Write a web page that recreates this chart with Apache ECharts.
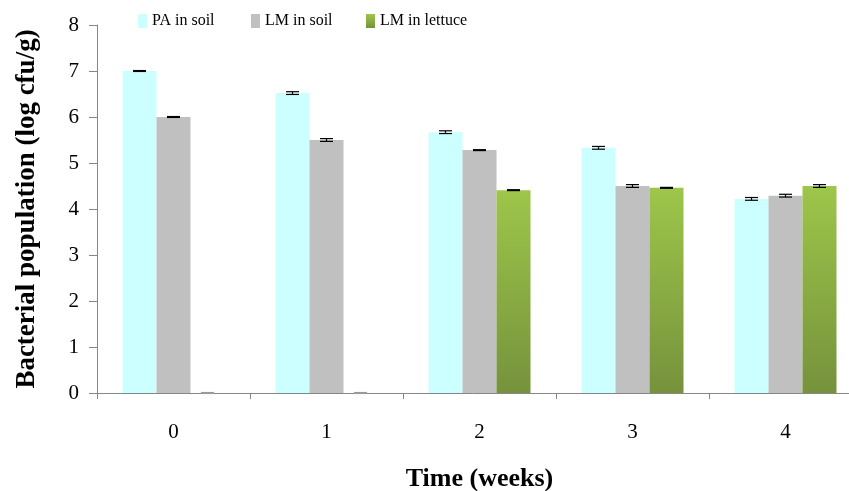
<!DOCTYPE html>
<html>
<head>
<meta charset="utf-8">
<script src="https://cdn.jsdelivr.net/npm/echarts@6/dist/echarts.min.js"></script>
<style>
  html, body { margin: 0; padding: 0; background: #ffffff; }
  #chart { width: 849px; height: 491px; }
</style>
</head>
<body>
<div id="chart"></div>
<script>
// Weeks after inoculation
const weeks = ['0', '1', '2', '3', '4'];

// Mean log counts (log cfu/g)
const paSoil    = [7.0, 6.52, 5.67, 5.33, 4.22];
const lmSoil    = [6.0, 5.5, 5.28, 4.5, 4.29];
const lmLettuce = [0, 0, 4.41, 4.46, 4.5];

// Standard errors
const paSoilErr    = [0.01, 0.03, 0.03, 0.03, 0.03];
const lmSoilErr    = [0.01, 0.03, 0.01, 0.03, 0.03];
const lmLettuceErr = [0.01, 0.01, 0.01, 0.01, 0.03];

const yTicks = [0, 8, 1]; // min, max, interval

const seriesNames = ['PA in soil', 'LM in soil', 'LM in lettuce'];

const SERIF = "'Liberation Serif', 'Times New Roman', serif";
const AXIS_GRAY = '#868686';
const CAT_GAP = 1 / 3;

const lettuceFill = new echarts.graphic.LinearGradient(0, 0, 0, 1, [
  { offset: 0, color: '#9dc64a' },
  { offset: 1, color: '#76923c' }
]);

function errorSeries(values, errs, slot, name) {
  return {
    type: 'custom',
    name: name + ' error',
    silent: true,
    z: 5,
    clip: false,
    data: values.map((v, i) => [i, v, errs[i]]),
    renderItem: function (params, api) {
      const idx = api.value(0);
      const v = api.value(1);
      const e = api.value(2);
      const catW = api.size([1, 0])[0];
      const barW = catW * (1 - CAT_GAP) / 3;
      const x = api.coord([idx, v])[0] + (slot - 1) * barW;
      const yHi = api.coord([idx, v + e])[1];
      const yLo = api.coord([idx, v - e])[1];
      const half = 6.5;
      const color = v === 0 ? '#9a9a9a' : '#000000';
      const style = { stroke: color, lineWidth: 1.2 };
      return {
        type: 'group',
        children: [
          { type: 'line', shape: { x1: x, y1: yHi, x2: x, y2: yLo }, style: style },
          { type: 'line', shape: { x1: x - half, y1: yHi, x2: x + half, y2: yHi }, style: style },
          { type: 'line', shape: { x1: x - half, y1: yLo, x2: x + half, y2: yLo }, style: style }
        ]
      };
    }
  };
}

function legendAt(name, left) {
  return {
    data: [name],
    left: left,
    top: 8,
    itemWidth: 9,
    itemHeight: 14,
    itemGap: 5,
    icon: 'rect',
    selectedMode: false,
    textStyle: { fontFamily: SERIF, fontSize: 16, color: '#000000', padding: [0, 0, 0, 0] }
  };
}

const chart = echarts.init(document.getElementById('chart'), null, { renderer: 'canvas' });

chart.setOption({
  animation: false,
  backgroundColor: '#ffffff',
  legend: [
    legendAt(seriesNames[0], 133),
    legendAt(seriesNames[1], 246),
    legendAt(seriesNames[2], 361)
  ],
  grid: {
    left: 97, width: 765, top: 25, bottom: 98,
    containLabel: false,
    outerBoundsMode: 'none'
  },
  xAxis: {
    type: 'category',
    data: weeks,
    boundaryGap: true,
    name: 'Time (weeks)',
    nameLocation: 'middle',
    nameGap: 73,
    nameTextStyle: { fontFamily: SERIF, fontSize: 26, fontWeight: 'bold', color: '#000000' },
    axisLine: { lineStyle: { color: AXIS_GRAY, width: 1 } },
    axisTick: { show: true, alignWithLabel: false, length: 6, lineStyle: { color: AXIS_GRAY } },
    axisLabel: { fontFamily: SERIF, fontSize: 21, color: '#000000', margin: 29 },
    splitLine: { show: false }
  },
  yAxis: {
    type: 'value',
    min: yTicks[0],
    max: yTicks[1],
    interval: yTicks[2],
    name: 'Bacterial population (log cfu/g)',
    nameLocation: 'middle',
    nameGap: 56,
    nameTextStyle: { fontFamily: SERIF, fontSize: 27, fontWeight: 'bold', color: '#000000' },
    axisLine: { show: true, lineStyle: { color: AXIS_GRAY, width: 1 } },
    axisTick: { show: true, inside: false, length: 8, lineStyle: { color: AXIS_GRAY } },
    axisLabel: { fontFamily: SERIF, fontSize: 21, color: '#000000', margin: 18 },
    splitLine: { show: false }
  },
  series: [
    {
      name: seriesNames[0], type: 'bar', data: paSoil,
      barGap: '0%', barCategoryGap: (CAT_GAP * 100) + '%',
      itemStyle: { color: '#ccffff' }
    },
    {
      name: seriesNames[1], type: 'bar', data: lmSoil,
      barGap: '0%', barCategoryGap: (CAT_GAP * 100) + '%',
      itemStyle: { color: '#c0c0c0' }
    },
    {
      name: seriesNames[2], type: 'bar', data: lmLettuce,
      barGap: '0%', barCategoryGap: (CAT_GAP * 100) + '%',
      itemStyle: { color: lettuceFill }
    },
    errorSeries(paSoil, paSoilErr, 0, seriesNames[0]),
    errorSeries(lmSoil, lmSoilErr, 1, seriesNames[1]),
    errorSeries(lmLettuce, lmLettuceErr, 2, seriesNames[2])
  ]
});
</script>
</body>
</html>
